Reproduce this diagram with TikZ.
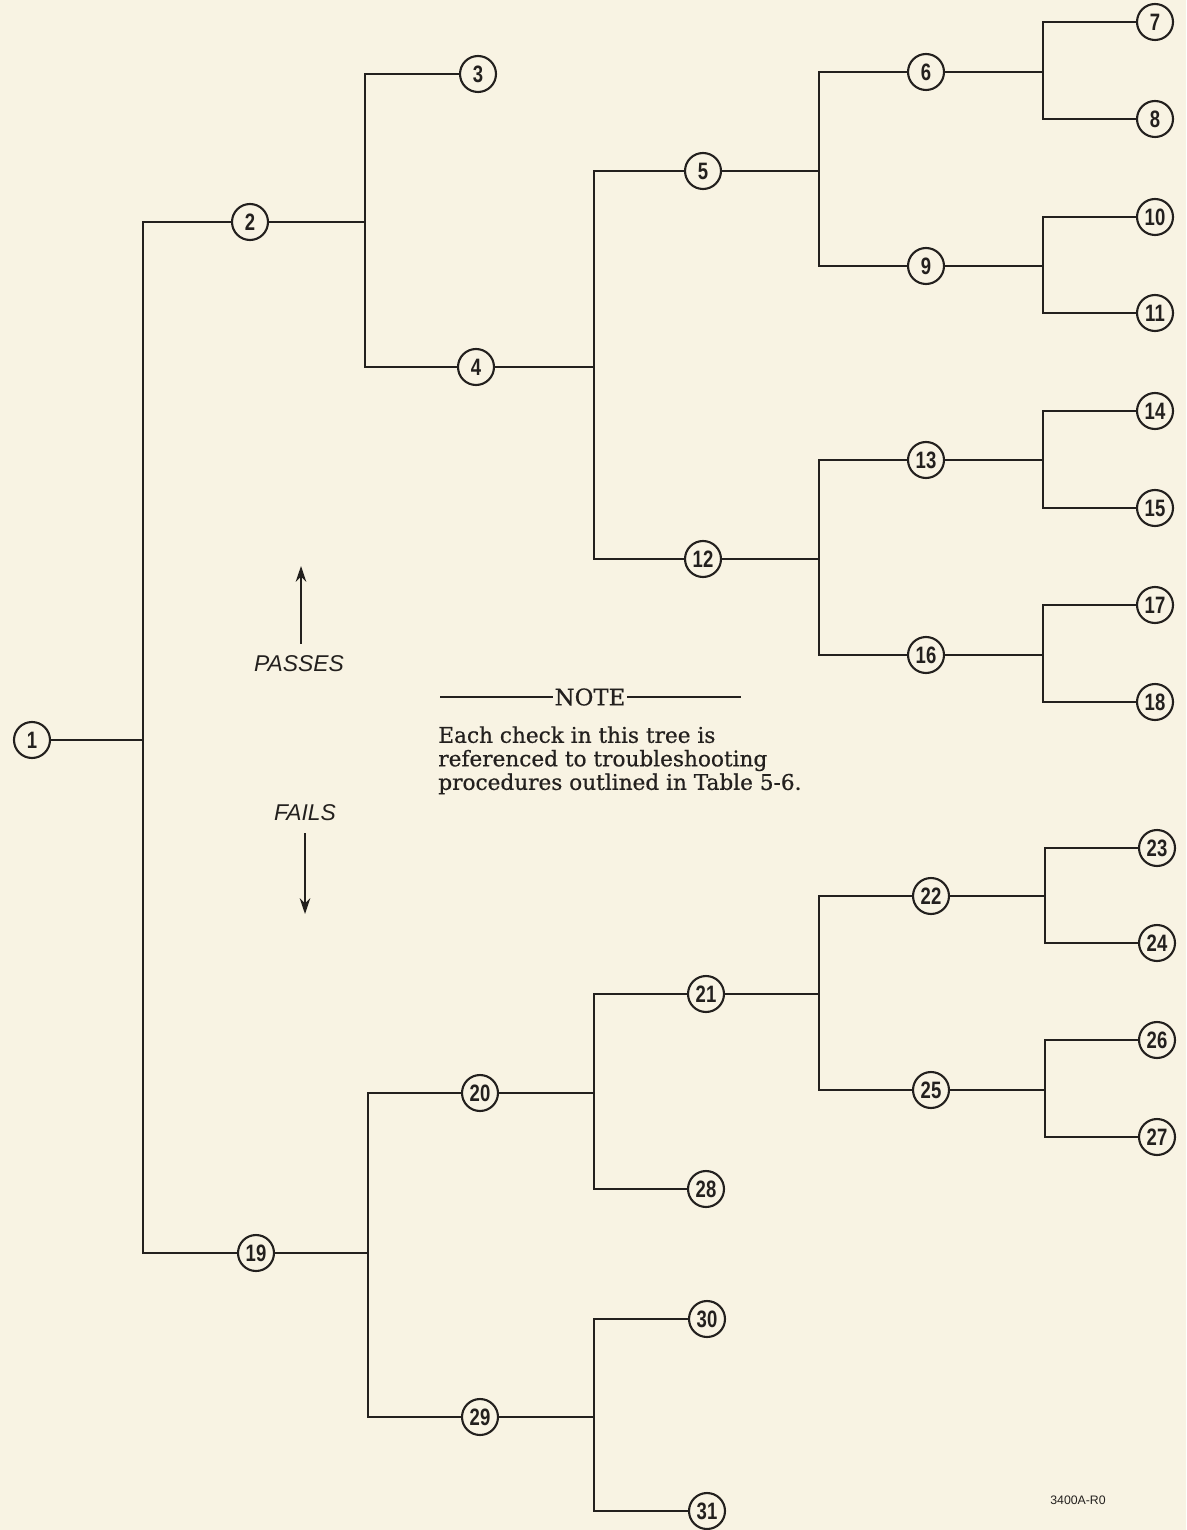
\documentclass[tikz,border=0pt]{standalone}
\usepackage{fontspec}
\setmainfont{DejaVu Serif}
\newfontfamily\notefont{DejaVu Serif}[FakeBold=0.6]
\newfontfamily\numfont{Liberation Sans}[FakeStretch=0.78]
\newfontfamily\lblfont{Liberation Sans}
\usetikzlibrary{arrows.meta}
\definecolor{paper}{RGB}{248,243,227}
\definecolor{ink}{RGB}{35,32,30}
\tikzset{
  cn/.style={circle,draw=ink,line width=1.2pt,minimum size=0.72cm,inner sep=0pt,fill=paper,
    font=\numfont\bfseries\fontsize{13.5}{15}\selectfont,text=ink},
  wire/.style={draw=ink,line width=1.15pt},
  lbl/.style={font=\lblfont\itshape\fontsize{13}{15}\selectfont,text=ink},
  arr/.style={draw=ink,line width=1.1pt,-{Stealth[length=9pt,width=6pt]}}
}
\begin{document}
\begin{tikzpicture}[x=0.02cm,y=-0.02cm]
\fill[paper] (0,0) rectangle (1186,1530);
\useasboundingbox (0,0) rectangle (1186,1530);
% nodes
\node[cn] (n1) at (32,740) {1};
\node[cn] (n2) at (250,222) {2};
\node[cn] (n3) at (478,74) {3};
\node[cn] (n4) at (476,367) {4};
\node[cn] (n5) at (703,171) {5};
\node[cn] (n6) at (926,72) {6};
\node[cn] (n7) at (1155,22) {7};
\node[cn] (n8) at (1155,119) {8};
\node[cn] (n9) at (926,266) {9};
\node[cn] (n10) at (1155,217) {10};
\node[cn] (n11) at (1155,313) {11};
\node[cn] (n12) at (703,559) {12};
\node[cn] (n13) at (926,460) {13};
\node[cn] (n14) at (1155,411) {14};
\node[cn] (n15) at (1155,508) {15};
\node[cn] (n16) at (926,655) {16};
\node[cn] (n17) at (1155,605) {17};
\node[cn] (n18) at (1155,702) {18};
\node[cn] (n19) at (256,1253) {19};
\node[cn] (n20) at (480,1093) {20};
\node[cn] (n21) at (706,994) {21};
\node[cn] (n22) at (931,896) {22};
\node[cn] (n23) at (1157,848) {23};
\node[cn] (n24) at (1157,943) {24};
\node[cn] (n25) at (931,1090) {25};
\node[cn] (n26) at (1157,1040) {26};
\node[cn] (n27) at (1157,1137) {27};
\node[cn] (n28) at (706,1189) {28};
\node[cn] (n29) at (480,1417) {29};
\node[cn] (n30) at (707,1319) {30};
\node[cn] (n31) at (707,1511) {31};
% junctions
\coordinate (j1) at (143,740);
\coordinate (j2) at (365,222);
\coordinate (j4) at (594,367);
\coordinate (j5) at (819,171);
\coordinate (j6) at (1043,72);
\coordinate (j9) at (1043,266);
\coordinate (j12) at (819,559);
\coordinate (j13) at (1043,460);
\coordinate (j16) at (1043,655);
\coordinate (j19) at (368,1253);
\coordinate (j20) at (594,1093);
\coordinate (j21) at (819,994);
\coordinate (j22) at (1045,896);
\coordinate (j25) at (1045,1090);
\coordinate (j29) at (594,1417);
% connectors
\foreach \p/\a/\b in {1/2/19, 2/3/4, 4/5/12, 5/6/9, 6/7/8, 9/10/11, 12/13/16, 13/14/15, 16/17/18,
                      19/20/29, 20/21/28, 21/22/25, 22/23/24, 25/26/27, 29/30/31}{
  \draw[wire] (n\p) -- (j\p);
  \draw[wire] (n\a) -| (j\p) |- (n\b);
}
% passes / fails
\node[lbl] (passes) at (299,664) {PASSES};
\node[lbl] (fails) at (305,813) {FAILS};
\coordinate (pt) at (301,566);
\coordinate (ft) at (305,914);
\draw[arr] (passes.north -| pt) ++(0,-6) -- (pt);
\draw[arr] (fails.south -| ft) ++(0,6) -- (ft);
% note
\node[font=\notefont\fontsize{13}{15}\selectfont,text=ink,inner sep=1pt] (note) at (590,697) {NOTE};
\coordinate (nl) at (440,697);
\coordinate (nr) at (741,697);
\draw[ink,line width=0.9pt] (nl) -- (note.west);
\draw[ink,line width=0.9pt] (note.east) -- (nr);
\node[anchor=north west,align=left,inner sep=0pt,text=ink,
      font=\notefont\fontsize{12.3}{13.4}\selectfont] (notetext) at (438,726)
  {Each check in this tree is\\referenced to troubleshooting\\procedures outlined in Table 5-6.};
\node[font=\lblfont\fontsize{7}{8}\selectfont,text=ink] (code) at (1078,1500) {3400A-R0};
\end{tikzpicture}
\end{document}
